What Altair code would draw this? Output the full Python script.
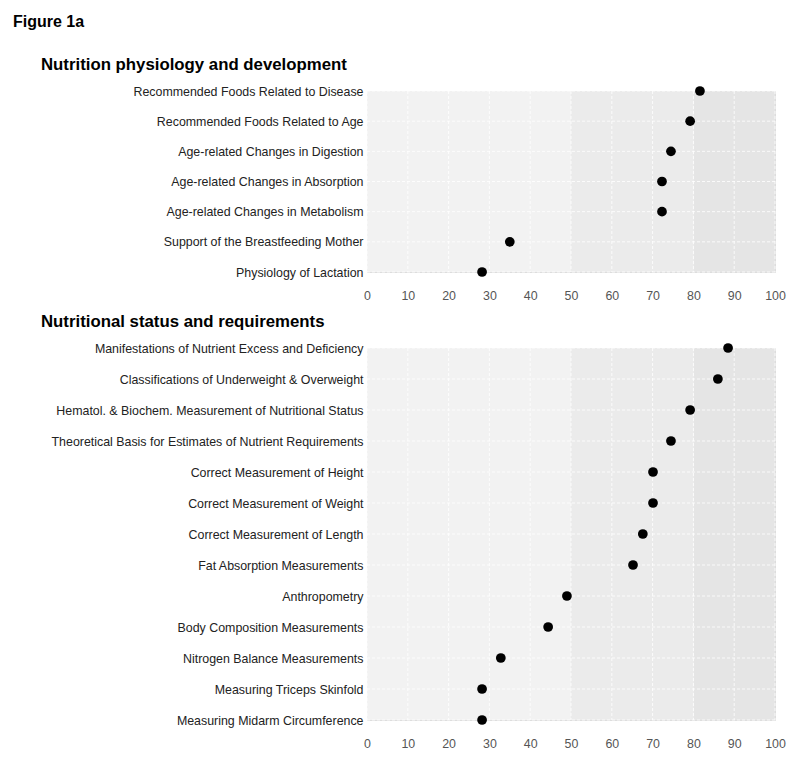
import altair as alt
import pandas as pd

fig_title = "Figure 1a"
title1 = "Nutrition physiology and development"
cats1 = [
    "Recommended Foods Related to Disease",
    "Recommended Foods Related to Age",
    "Age-related Changes in Digestion",
    "Age-related Changes in Absorption",
    "Age-related Changes in Metabolism",
    "Support of the Breastfeeding Mother",
    "Physiology of Lactation",
]
vals1 = [81.6, 79.2, 74.5, 72.3, 72.3, 35.0, 28.2]

title2 = "Nutritional status and requirements"
cats2 = [
    "Manifestations of Nutrient Excess and Deficiency",
    "Classifications of Underweight & Overweight",
    "Hematol. & Biochem. Measurement of Nutritional Status",
    "Theoretical Basis for Estimates of Nutrient Requirements",
    "Correct Measurement of Height",
    "Correct Measurement of Weight",
    "Correct Measurement of Length",
    "Fat Absorption Measurements",
    "Anthropometry",
    "Body Composition Measurements",
    "Nitrogen Balance Measurements",
    "Measuring Triceps Skinfold",
    "Measuring Midarm Circumference",
]
vals2 = [88.5, 86.0, 79.2, 74.5, 70.1, 70.1, 67.6, 65.2, 49.0, 44.4, 32.8, 28.2, 28.2]

band_start = [0, 50, 80]
band_end = [50, 80, 100]
band_color = ["#f2f2f2", "#ebebeb", "#e5e5e5"]
x_ticks = list(range(0, 101, 10))

W = 408
FONT = "Liberation Sans"
LBL = 12.4


def panel(cats, vals, title, h):
    df = pd.DataFrame({"item": cats, "pct": vals})
    bands = pd.DataFrame({"start": band_start, "end": band_end, "color": band_color})
    ticks = pd.DataFrame({"t": x_ticks})
    xs = alt.Scale(domain=[0, 100], nice=False, zero=True)
    ys = alt.Scale(domain=cats, type="point", padding=0)
    xaxis = alt.Axis(values=x_ticks, title=None, ticks=False, domain=False, grid=False,
                     labelPadding=17, labelFontSize=LBL, labelColor="#555555", labelFont=FONT,
                     labelFlush=False)
    yaxis = alt.Axis(title=None, ticks=False, domain=False, grid=False, labelPadding=4,
                     labelFontSize=LBL, labelColor="#222222", labelFont=FONT, labelLimit=500)
    rect = alt.Chart(bands).mark_rect().encode(
        x=alt.X("start:Q", scale=xs, axis=xaxis),
        x2="end:Q",
        y=alt.value(0),
        y2=alt.value(h),
        color=alt.Color("color:N", scale=None, legend=None),
    )
    vgrid = alt.Chart(ticks).mark_rule(color="white", strokeDash=[3, 2], strokeWidth=0.8).encode(
        x=alt.X("t:Q", scale=xs, axis=xaxis),
        y=alt.value(0),
        y2=alt.value(h),
    )
    hgrid = alt.Chart(df).mark_rule(color="white", strokeDash=[3, 2], strokeWidth=0.8).encode(
        y=alt.Y("item:N", scale=ys, axis=yaxis),
        x=alt.value(0),
        x2=alt.value(W),
    )
    pts = alt.Chart(df).mark_circle(size=95, color="black", opacity=1).encode(
        x=alt.X("pct:Q", scale=xs, axis=xaxis),
        y=alt.Y("item:N", scale=ys, axis=yaxis),
    )
    return alt.layer(rect, vgrid, hgrid, pts).properties(
        width=W, height=h,
        title=alt.TitleParams(title, anchor="start", frame="group", dx=-326, fontSize=16.8,
                              fontWeight="bold", font=FONT, color="black", offset=11),
    )


top = panel(cats1, vals1, title1, 181)
bottom = panel(cats2, vals2, title2, 372)

chart = alt.vconcat(top, bottom, spacing=11).properties(
    title=alt.TitleParams(fig_title, anchor="start", frame="group", dx=-354, fontSize=16,
                          fontWeight="bold", font=FONT, color="black", offset=27)
).configure_view(stroke=None).configure(font=FONT)

chart.save("out.html", embed_options={"renderer": "svg", "actions": False})
